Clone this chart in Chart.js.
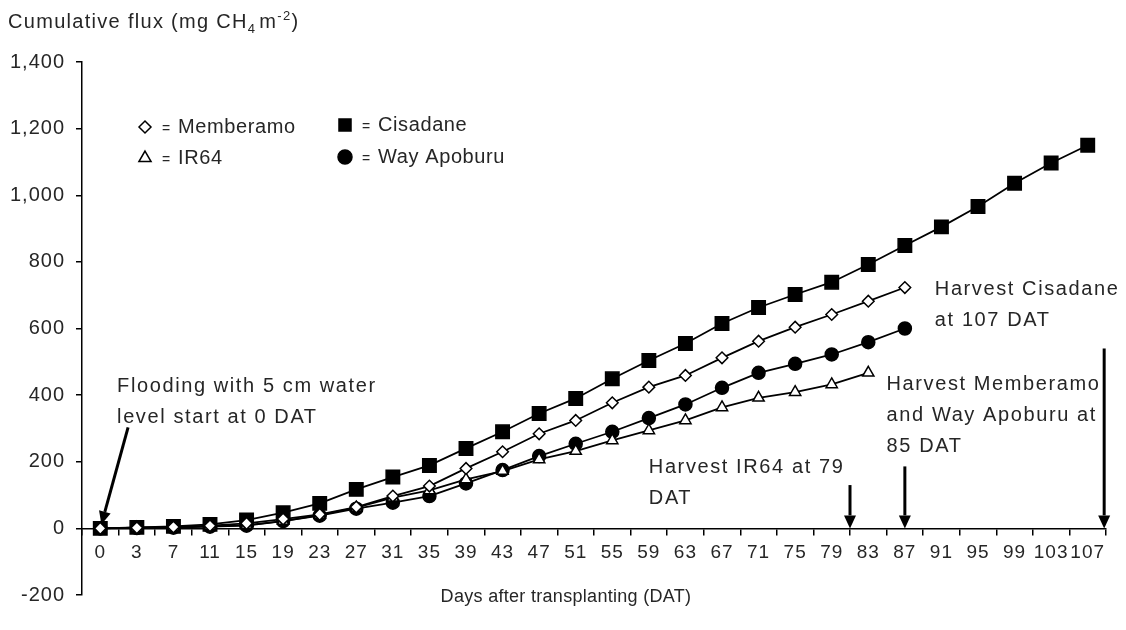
<!DOCTYPE html>
<html>
<head>
<meta charset="utf-8">
<script src="https://cdn.jsdelivr.net/npm/chart.js@4.4.0/dist/chart.umd.min.js"></script>
<style>
  html, body { margin: 0; padding: 0; background: #fff; }
  #wrap { width: 1126px; height: 630px; }
</style>
</head>
<body>
<div id="wrap"><canvas id="grafico" width="1126" height="630"></canvas></div>
<script>
// dias despues del trasplante (DAT), eje x por categorias
var dias = ['0', '3', '7', '11', '15', '19', '23', '27', '31', '35', '39', '43', '47', '51',
            '55', '59', '63', '67', '71', '75', '79', '83', '87', '91', '95', '99', '103', '107'];

// flujo acumulado (mg CH4 m-2)
var cisadane   = [0, 3, 6, 12, 25, 47, 75, 117, 154, 189, 240, 290, 345, 390,
                  449, 504, 555, 615, 663, 702, 739, 792, 849, 905, 966, 1036, 1097, 1150];
var memberamo  = [0, 2, 4, 8, 15, 28, 42, 64, 97, 127, 180, 230, 284, 324,
                  377, 424, 459, 512, 562, 604, 642, 682, 723];
var ir64       = [0, 2, 3, 6, 10, 22, 40, 62, 92, 114, 147, 172, 207, 232,
                  264, 294, 324, 363, 392, 409, 432, 467];
var wayApoburu = [0, 1, 2, 5, 8, 22, 38, 59, 77, 97, 135, 175, 217, 254,
                  290, 331, 372, 422, 467, 494, 522, 559, 600];

var yMin = -200, yMax = 1400, yPaso = 200;

var fuente = 'Liberation Sans, Arial, sans-serif';
var gris = '#262626';

// textos de anotacion: [indice de categoria, valor y, lineas]
var notas = [
  [0.46, 426, ['Flooding with 5 cm water', 'level start at 0 DAT']],
  [15.0, 183, ['Harvest IR64 at 79', 'DAT']],
  [21.5, 432, ['Harvest Memberamo', 'and Way Apoburu at', '85 DAT']],
  [22.82, 717, ['Harvest Cisadane', 'at 107 DAT']]
];
// flechas: [indice inicio, valor inicio, indice punta, valor punta]
var flechas = [
  [0.76, 303, 0.03, 12],
  [20.5, 130, 20.5, 0],
  [22, 186, 22, 0],
  [27.45, 540, 27.45, 0]
];

var leyenda = [
  { texto: 'Memberamo', estilo: 'rectRot', r: 6, relleno: '#fff', x: 145, y: 127 },
  { texto: 'IR64', estilo: 'triangle', r: 7, relleno: '#fff', x: 145, y: 158 },
  { texto: 'Cisadane', estilo: 'rect', r: 8.5, relleno: '#000', x: 345, y: 125 },
  { texto: 'Way Apoburu', estilo: 'circle', r: 7, relleno: '#000', x: 345, y: 157 }
];

function dibujarFlecha(ctx, x0, y0, x1, y1) {
  var ang = Math.atan2(y1 - y0, x1 - x0);
  var largo = 13, ancho = 6;
  var bx = x1 - largo * Math.cos(ang), by = y1 - largo * Math.sin(ang);
  ctx.beginPath();
  ctx.moveTo(x0, y0);
  ctx.lineTo(bx, by);
  ctx.stroke();
  ctx.beginPath();
  ctx.moveTo(x1, y1);
  ctx.lineTo(bx + ancho * Math.sin(ang), by - ancho * Math.cos(ang));
  ctx.lineTo(bx - ancho * Math.sin(ang), by + ancho * Math.cos(ang));
  ctx.closePath();
  ctx.fill();
}

var extras = {
  id: 'extras',
  beforeDraw: function (chart) {
    // etiquetas de los ejes algo espaciadas, como en el original
    chart.ctx.letterSpacing = '1px';
  },
  afterDraw: function (chart) {
    var ctx = chart.ctx;
    var xs = chart.scales.x, ys = chart.scales.y;
    ctx.save();
    ctx.fillStyle = gris;
    ctx.textBaseline = 'middle';
    ctx.textAlign = 'left';

    // titulo del eje y con subindice y superindice
    var x = 8, y = 22;
    ctx.letterSpacing = '1.3px';
    ctx.font = '20px ' + fuente;
    ctx.fillText('Cumulative flux (mg CH', x, y);
    x += ctx.measureText('Cumulative flux (mg CH').width;
    ctx.font = '13px ' + fuente;
    ctx.fillText('4', x, y + 7);
    x += ctx.measureText('4').width + 3;
    ctx.font = '20px ' + fuente;
    ctx.fillText('m', x, y);
    x += ctx.measureText('m').width;
    ctx.font = '13px ' + fuente;
    ctx.fillText('-2', x, y - 6);
    x += ctx.measureText('-2').width;
    ctx.font = '20px ' + fuente;
    ctx.fillText(')', x, y);

    // titulo del eje x
    ctx.letterSpacing = '0.3px';
    ctx.font = '18px ' + fuente;
    ctx.textAlign = 'center';
    ctx.fillText('Days after transplanting (DAT)', 566, 597);

    // leyenda
    ctx.textAlign = 'left';
    ctx.letterSpacing = '0.6px';
    leyenda.forEach(function (it) {
      ctx.save();
      ctx.fillStyle = it.relleno;
      ctx.strokeStyle = '#000';
      ctx.lineWidth = 1.5;
      Chart.helpers.drawPoint(ctx, { pointStyle: it.estilo, radius: it.r, rotation: 0, borderWidth: 1.5 }, it.x, it.y);
      ctx.restore();
      ctx.font = '14px ' + fuente;
      ctx.fillText('=', it.x + 17, it.y + 2);
      ctx.font = '20px ' + fuente;
      ctx.fillText(it.texto, it.x + 33, it.y);
    });

    // notas
    ctx.letterSpacing = '1.6px';
    ctx.font = '20px ' + fuente;
    notas.forEach(function (n) {
      var px = xs.getPixelForValue(n[0]), py = ys.getPixelForValue(n[1]);
      n[2].forEach(function (linea, i) {
        ctx.fillText(linea, px, py + i * 31);
      });
    });

    // flechas
    ctx.strokeStyle = '#000';
    ctx.fillStyle = '#000';
    ctx.lineWidth = 3;
    flechas.forEach(function (f) {
      dibujarFlecha(ctx, xs.getPixelForValue(f[0]), ys.getPixelForValue(f[1]),
                    xs.getPixelForValue(f[2]), ys.getPixelForValue(f[3]));
    });
    ctx.restore();
    ctx.letterSpacing = '0px';
  }
};

function serie(nombre, datos, estilo, radio, relleno) {
  return {
    label: nombre,
    data: datos,
    borderColor: '#000',
    borderWidth: 1.8,
    pointStyle: estilo,
    pointRadius: radio,
    pointBackgroundColor: relleno,
    pointBorderColor: '#000',
    pointBorderWidth: 1.5,
    tension: 0,
    fill: false
  };
}

new Chart(document.getElementById('grafico'), {
  type: 'line',
  data: {
    labels: dias,
    datasets: [
      serie('Memberamo', memberamo, 'rectRot', 5.8, '#fff'),
      serie('IR64', ir64, 'triangle', 6.5, '#fff'),
      serie('Way Apoburu', wayApoburu, 'circle', 6.5, '#000'),
      serie('Cisadane', cisadane, 'rect', 9.5, '#000')
    ]
  },
  options: {
    responsive: false,
    animation: false,
    layout: { padding: { left: 0, top: 62, right: 20, bottom: 35 } },
    plugins: { legend: { display: false }, tooltip: { enabled: false } },
    scales: {
      x: {
        type: 'category',
        position: { y: 0 },
        offset: true,
        grid: { display: true, drawOnChartArea: false, drawTicks: true, tickLength: 6,
                color: '#000', lineWidth: 1.5, offset: true },
        border: { display: true, color: '#000', width: 1.5 },
        ticks: { color: gris, font: { family: fuente, size: 19 }, padding: 7,
                 maxRotation: 0, autoSkip: false },
        afterFit: function (s) { s.height = 0; }
      },
      y: {
        min: yMin,
        max: yMax,
        ticks: { stepSize: yPaso, color: gris, font: { family: fuente, size: 20 }, padding: 11 },
        grid: { display: true, drawOnChartArea: false, drawTicks: true, tickLength: 6,
                color: '#000', lineWidth: 1.5 },
        border: { display: true, color: '#000', width: 1.5 },
        afterFit: function (s) { s.width = 82; }
      }
    }
  },
  plugins: [extras]
});
</script>
</body>
</html>
